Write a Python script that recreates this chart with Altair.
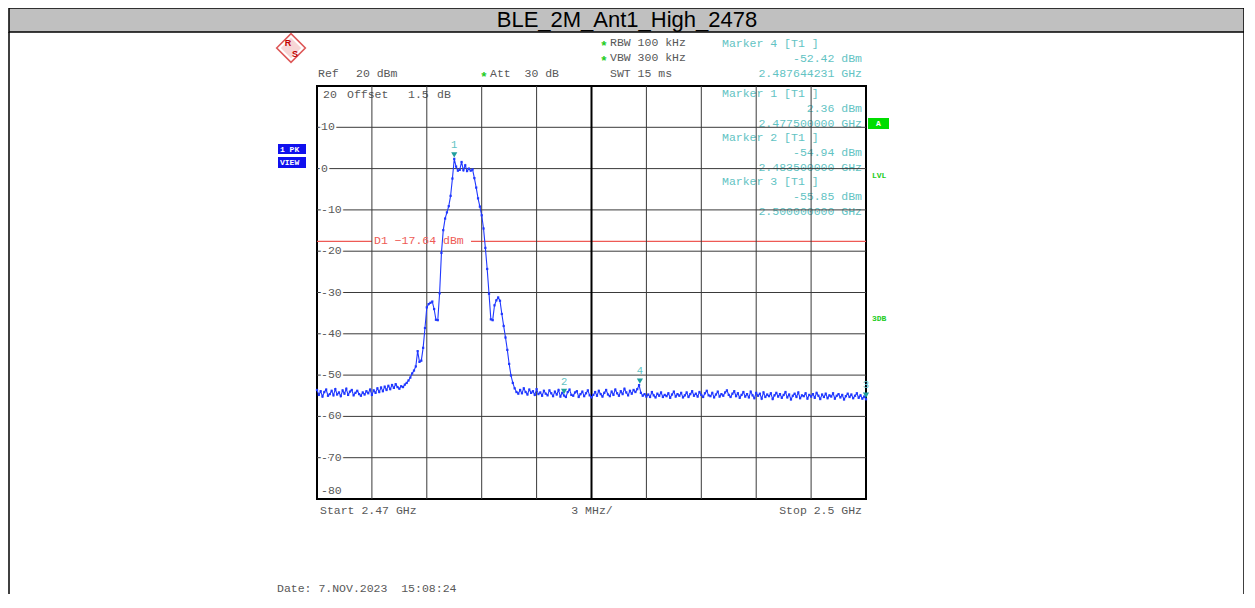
import altair as alt
import pandas as pd

# ---------------- data ----------------
title_text = "BLE_2M_Ant1_High_2478"

# trace levels (dBm), one value every 0.1 MHz from 2470.0 to 2500.0 MHz
level_dbm = [
    # 2470.0 - 2474.4
    -53.6, -54.8, -53.9, -55.2, -54.1, -53.5, -55.0, -54.6, -53.8, -54.9,
    -53.4, -54.7, -54.2, -55.1, -53.7, -54.5, -53.3, -54.8, -54.0, -53.6,
    -54.9, -54.3, -53.8, -54.6, -55.0, -54.2, -54.7, -53.9, -54.4, -53.5,
    -54.8, -53.7, -54.3, -53.2, -54.1, -53.0, -53.9, -52.8, -53.6, -52.6,
    -53.4, -52.4, -53.1, -52.2, -52.9,
    # 2474.5 - 2481.0 (signal)
    -53.3, -52.7, -52.9, -52.3, -51.9, -51.3, -50.6, -49.6, -48.9, -47.9,
    -44.2, -46.8, -46.5, -43.4, -38.6, -33.6, -32.8, -32.5, -32.2, -34.0,
    -36.6, -36.7, -30.2, -20.4, -14.9, -12.1, -10.6, -9.1, -6.6, -2.4,
    2.36, 0.5, -0.5, -0.3, 1.6, -0.4, 0.8, -0.6, 0.0, -0.5,
    -0.2, -2.3, -4.6, -7.2, -9.2, -11.3, -14.5, -19.2, -24.3, -30.3,
    -36.5, -36.7, -33.1, -31.9, -31.2, -32.0, -35.2, -38.1, -40.9, -43.9,
    -47.3, -50.1, -51.9, -53.2, -54.1, -54.5,
    # 2481.1 - 2500.0
    -53.6, -54.4, -53.2, -54.1, -54.7, -53.5, -54.3, -53.9, -54.8, -53.4,
    -54.6, -54.2, -55.0, -53.8, -54.5, -54.9, -53.7, -54.4, -55.1, -54.0,
    -54.7, -53.6, -55.2, -54.3, -54.94, -55.3, -54.1, -53.5, -54.8, -55.0,
    -54.2, -53.9, -55.3, -54.6, -54.0, -55.1, -54.4, -53.7, -54.9, -55.4,
    -54.8, -54.1, -55.0, -53.8, -54.6, -55.2, -54.3, -53.6, -54.7, -55.1,
    -54.0, -54.8, -53.5, -54.4, -55.0, -53.9, -54.6, -53.3, -54.2, -54.9,
    -53.8, -54.5, -53.6, -54.1, -53.4, -52.42, -54.3, -55.0, -54.6, -55.2,
    -54.7, -55.3, -54.1, -54.9, -55.4, -54.5, -55.0, -54.2, -55.3, -54.8,
    -55.1, -54.4, -55.5, -54.7, -54.0, -55.2, -54.6, -55.0, -54.3, -55.4,
    -54.9, -54.2, -55.3, -54.6, -53.9, -55.0, -54.5, -55.2, -54.1, -54.8,
    -55.3, -54.4, -53.8, -54.9, -55.1, -54.3, -55.4, -54.7, -54.0, -55.2,
    -54.6, -55.0, -54.2, -53.7, -54.8, -55.3, -54.5, -53.9, -55.1, -54.4,
    -55.5, -54.8, -54.1, -55.2, -54.6, -55.4, -54.0, -54.9, -55.6, -54.3,
    -55.0, -54.5, -55.7, -54.2, -55.3, -54.7, -55.1, -54.4, -55.8, -54.9,
    -54.3, -55.2, -54.6, -55.5, -54.8, -54.1, -55.4, -54.7, -55.9, -55.0,
    -54.5, -55.3, -54.2, -55.6, -54.9, -55.1, -54.4, -55.7, -54.8, -55.2,
    -54.6, -55.5, -54.3, -55.0, -55.8, -54.7, -55.3, -54.5, -55.6, -54.9,
    -55.2, -54.4, -55.7, -55.0, -54.6, -55.4, -54.8, -55.9, -55.1, -54.5,
    -55.3, -54.7, -55.6, -55.0, -54.4, -55.5, -54.9, -55.7, -55.2, -55.85,
]
assert len(level_dbm) == 301
freq_mhz = [round(2470.0 + 0.1 * i, 1) for i in range(len(level_dbm))]

grid_freq_mhz = [2473, 2476, 2479, 2482, 2488, 2491, 2494, 2497]
center_freq_mhz = [2485]
grid_level_dbm = [10, 0, -10, -20, -30, -40, -50, -60, -70]
grid_level_text = ["10", "0", "-10", "-20", "-30", "-40", "-50", "-60", "-70"]
top_level_dbm = [20]
top_level_text = ["20"]
bottom_level_dbm = [-80]
bottom_level_text = ["-80"]

marker_id = ["1", "2", "3", "4"]
marker_freq_mhz = [2477.5, 2483.5, 2500.0, 2487.644231]
marker_level_dbm = [2.36, -54.94, -55.85, -52.42]
marker_block_order = ["4", "1", "2", "3"]

d1_level_dbm = [-17.64]

# ---------------- styling ----------------
MONO = "Liberation Mono"
SANS = "Liberation Sans"
GRAY = "#585858"
TEAL = "#1f9e9e"
TEAL_TXT = "#62c3c3"
BLUE = "#2038ff"
RED = "#ee5a55"
GREEN = "#22cc22"
GRID = "#3a3a3a"
NB = "\u00a0"   # non-breaking space keeps double spaces in SVG text

OX, OY = 317, 86          # page position of the plot area
W, H = 549, 413

XS = alt.Scale(domain=[2470, 2500], nice=False, zero=False)
YS = alt.Scale(domain=[-80, 20], nice=False, zero=False)
DUMMY = pd.DataFrame({"_": [0]})


def xenc(field="f"):
    return alt.X(f"{field}:Q", scale=XS, axis=None)


def yenc(field="lvl"):
    return alt.Y(f"{field}:Q", scale=YS, axis=None)


def ptext(s, x, y, color=GRAY, align="left", size=11.5, font=MONO, weight="normal"):
    return alt.Chart(DUMMY).mark_text(
        text=s.replace("  ", " " + NB), align=align, baseline="middle", font=font, fontSize=size,
        fontWeight=weight, color=color
    ).encode(x=alt.value(x - OX), y=alt.value(y - OY))


def prect(x1, y1, x2, y2, fill, stroke=None, sw=1):
    kw = dict(fill=fill)
    if stroke is not None:
        kw.update(stroke=stroke, strokeWidth=sw)
    return alt.Chart(DUMMY).mark_rect(**kw).encode(
        x=alt.value(x1 - OX), x2=alt.value(x2 - OX),
        y=alt.value(y1 - OY), y2=alt.value(y2 - OY))


def prule(x1, y1, x2, y2, color="black", sw=1):
    return alt.Chart(DUMMY).mark_rule(color=color, strokeWidth=sw).encode(
        x=alt.value(x1 - OX), x2=alt.value(x2 - OX),
        y=alt.value(y1 - OY), y2=alt.value(y2 - OY))


layers = []

# ---- page frame and header ----
layers.append(prect(9, 8, 1244, 32, "#c0c0c0", "black", 1.5))
layers.append(ptext(title_text, 627, 20, "black", "center", 22, SANS))
layers.append(prule(9, 32, 9, 600, "black", 1.5))
layers.append(prule(1244, 32, 1244, 600, "black", 1.5))

# ---- R&S logo ----
logo = alt.Chart(DUMMY).mark_point(shape="diamond", filled=False, color="#d01010",
                                   strokeWidth=1.6, size=820).encode(
    x=alt.value(291 - OX), y=alt.value(48 - OY))
logo_in = alt.Chart(DUMMY).mark_point(shape="diamond", filled=True, color="#f4c4c4",
                                      size=420).encode(
    x=alt.value(291 - OX), y=alt.value(48 - OY))
layers += [logo_in, logo,
           ptext("R", 288, 43, "#c00000", "center", 9, SANS, "bold"),
           ptext("S", 295, 54, "#c00000", "center", 9, SANS, "bold")]

# ---- settings text above the plot ----
layers += [
    ptext("*", 604, 46, GREEN, "center", 13, MONO, "bold"),
    ptext("RBW 100 kHz", 610, 43),
    ptext("*", 604, 61, GREEN, "center", 13, MONO, "bold"),
    ptext("VBW 300 kHz", 610, 58),
    ptext("SWT 15 ms", 610, 74),
    ptext("Ref", 318, 74),
    ptext("20 dBm", 356, 74),
    ptext("*", 484, 77, GREEN, "center", 13, MONO, "bold"),
    ptext("Att  30 dB", 490, 74),
]

# ---- D1 display line (drawn under the grid) ----
d1_df = pd.DataFrame({"lvl": d1_level_dbm})
layers.append(alt.Chart(d1_df).mark_rule(color=RED, strokeWidth=1.2).encode(y=yenc()))
layers.append(alt.Chart(d1_df).transform_calculate(lo="datum.lvl - 1.4", hi="datum.lvl + 1.4")
              .mark_rect(fill="white").encode(x=alt.value(372 - OX), x2=alt.value(471 - OX),
                                              y=yenc("lo"), y2=alt.Y2("hi:Q")))

# ---- text that the grid runs over ----
layers += [
    ptext("Offset", 347, 95),
    ptext("1.5", 408, 95),
    ptext("dB", 437, 95),
]
row_y = {"4": 44, "1": 94, "2": 138, "3": 182}
for mid in marker_block_order:
    i = marker_id.index(mid)
    y0 = row_y[mid]
    layers.append(ptext(f"Marker {mid} [T1 ]", 722, y0, TEAL_TXT))
    layers.append(ptext(f"{marker_level_dbm[i]:.2f} dBm", 862, y0 + 15, TEAL_TXT, "right"))
    layers.append(ptext(f"{marker_freq_mhz[i] / 1000:.9f} GHz", 862, y0 + 30, TEAL_TXT, "right"))

# ---- grid ----
layers.append(alt.Chart(pd.DataFrame({"f": grid_freq_mhz})).mark_rule(
    color=GRID, strokeWidth=1).encode(x=xenc()))
layers.append(alt.Chart(pd.DataFrame({"lvl": grid_level_dbm})).mark_rule(
    color=GRID, strokeWidth=1).encode(y=yenc()))
layers.append(alt.Chart(pd.DataFrame({"f": center_freq_mhz})).mark_rule(
    color="black", strokeWidth=2).encode(x=xenc()))

# ---- level labels inside the plot ----
ylab_df = pd.DataFrame({"lvl": grid_level_dbm, "t": grid_level_text})
layers.append(alt.Chart(ylab_df).mark_text(align="left", baseline="middle", font=MONO, fontSize=11.5,
                                           color="white", stroke="white", strokeWidth=4).encode(
    x=alt.value(4), y=yenc(), text="t:N"))
layers.append(alt.Chart(ylab_df).mark_text(align="left", baseline="middle", font=MONO, fontSize=11.5,
                                           color=GRAY).encode(x=alt.value(4), y=yenc(), text="t:N"))
layers.append(alt.Chart(pd.DataFrame({"lvl": top_level_dbm, "t": top_level_text})).mark_text(
    align="left", baseline="middle", font=MONO, fontSize=11.5, color=GRAY, dy=9).encode(
    x=alt.value(6), y=yenc(), text="t:N"))
layers.append(alt.Chart(pd.DataFrame({"lvl": bottom_level_dbm, "t": bottom_level_text})).mark_text(
    align="left", baseline="middle", font=MONO, fontSize=11.5, color=GRAY, dy=-8).encode(
    x=alt.value(4), y=yenc(), text="t:N"))

# D1 label
layers.append(alt.Chart(d1_df).transform_calculate(t="'D1 ' + format(datum.lvl, '.2f') + ' dBm'")
              .mark_text(align="left", baseline="middle", font=MONO, fontSize=11.5, color=RED).encode(
    x=alt.value(374 - OX), y=yenc(), text="t:N"))

# ---- trace ----
trace_df = pd.DataFrame({"f": freq_mhz, "lvl": level_dbm})
layers.append(alt.Chart(trace_df).mark_line(color=BLUE, strokeWidth=1.1).encode(x=xenc(), y=yenc()))
layers.append(alt.Chart(trace_df).mark_square(color=BLUE, size=5, opacity=1).encode(x=xenc(), y=yenc()))

# ---- markers ----
mk_df = pd.DataFrame({"id": marker_id, "f": marker_freq_mhz, "lvl": marker_level_dbm})
layers.append(alt.Chart(mk_df).mark_point(shape="triangle-down", filled=True, color=TEAL,
                                          size=38, opacity=1, yOffset=-4).encode(x=xenc(), y=yenc()))
layers.append(alt.Chart(mk_df).mark_text(font=MONO, fontSize=10.5, color=TEAL_TXT, dy=-14,
                                         baseline="middle").encode(x=xenc(), y=yenc(), text="id:N"))

# ---- side indicators ----
layers += [
    prect(278, 144, 306, 154, "#1010ee"),
    ptext("1 PK", 280, 149.5, "white", "left", 8, MONO, "bold"),
    prect(278, 157, 306, 168, "#1010ee"),
    ptext("VIEW", 280, 162.5, "white", "left", 8, MONO, "bold"),
    prect(868, 118, 889, 129, "#00dd00"),
    ptext("A", 878.5, 123.5, "white", "center", 8, MONO, "bold"),
    ptext("LVL", 872, 176, GREEN, "left", 8, MONO, "bold"),
    ptext("3DB", 872, 319, GREEN, "left", 8, MONO, "bold"),
]

# ---- bottom text ----
layers += [
    ptext("Start 2.47 GHz", 320, 511),
    ptext("3 MHz/", 592, 511, GRAY, "center"),
    ptext("Stop 2.5 GHz", 862, 511, GRAY, "right"),
    ptext("Date: 7.NOV.2023  15:08:24", 277, 589),
]

chart = alt.layer(*layers).properties(
    width=W, height=H,
    autosize=alt.AutoSizeParams(type="none"),
    padding={"left": OX - 8, "top": OY - 8, "right": 1236 - (OX - 8) - W, "bottom": 586 - (OY - 8) - H},
    background="white",
).configure_view(stroke="black", strokeWidth=2)

chart.save("out.html", embed_options={"renderer": "svg", "actions": False})
